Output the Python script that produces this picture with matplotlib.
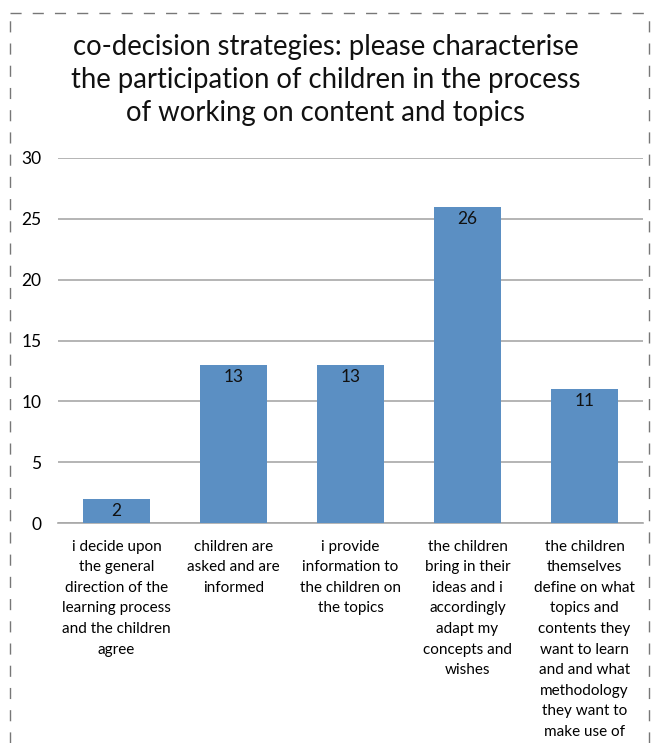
import matplotlib.pyplot as plt
from matplotlib.lines import Line2D

categories = [
    "i decide upon\nthe general\ndirection of the\nlearning process\nand the children\nagree",
    "children are\nasked and are\ninformed",
    "i provide\ninformation to\nthe children on\nthe topics",
    "the children\nbring in their\nideas and i\naccordingly\nadapt my\nconcepts and\nwishes",
    "the children\nthemselves\ndefine on what\ntopics and\ncontents they\nwant to learn\nand and what\nmethodology\nthey want to\nmake use of",
]
values = [2, 13, 13, 26, 11]
yticks = [0, 5, 10, 15, 20, 25, 30]

plt.rcParams["font.family"] = ["Lato", "DejaVu Sans"]

fig = plt.figure(figsize=(6.51, 7.43), dpi=100)
ax = fig.add_axes([58 / 651, 1 - 523 / 743, 585 / 651, 365 / 743])

x = range(len(values))
bars = ax.bar(x, values, width=0.57, color="#5b8fc3", zorder=3)
for b, v in zip(bars, values):
    ax.text(b.get_x() + b.get_width() / 2, v - 0.35, str(v), ha="center", va="top",
            fontsize=12.5, color="#111111", zorder=4)

ax.set_xlim(-0.5, len(values) - 0.5)
ax.set_ylim(0, 30)
ax.set_yticks(yticks)
ax.set_yticklabels([str(t) for t in yticks], fontsize=12.5)
ax.set_xticks(list(x))
ax.set_xticklabels(categories, fontsize=11, va="top")
for lbl in ax.get_xticklabels():
    lbl.set_linespacing(1.6)
ax.tick_params(axis="x", length=0, pad=12)
ax.tick_params(axis="y", length=0, pad=12)
ax.grid(axis="y", color="#a8a8a8", linewidth=1.2, zorder=0)
for s in ["left", "right", "top"]:
    ax.spines[s].set_visible(False)
ax.spines["bottom"].set_color("#a8a8a8")
ax.spines["bottom"].set_linewidth(1.2)

fig.text(0.5, 1 - 80 / 743,
         "co-decision strategies: please characterise\nthe participation of children in the process\nof working on content and topics",
         ha="center", va="center", fontsize=19.8, linespacing=1.32, color="#111111")

# dashed border around chart
fig.add_artist(Line2D([10 / 651, 1], [1 - 13 / 743, 1 - 13 / 743], transform=fig.transFigure,
                      color="#777777", linestyle=(0, (8, 8)), linewidth=1))
fig.add_artist(Line2D([10 / 651, 10 / 651], [0, 1 - 13 / 743], transform=fig.transFigure,
                      color="#777777", linestyle=(0, (8, 8)), linewidth=1))
fig.add_artist(Line2D([649 / 651, 649 / 651], [0, 1 - 13 / 743], transform=fig.transFigure,
                      color="#777777", linestyle=(0, (8, 8)), linewidth=1))

fig.savefig("out.png", dpi=100)
